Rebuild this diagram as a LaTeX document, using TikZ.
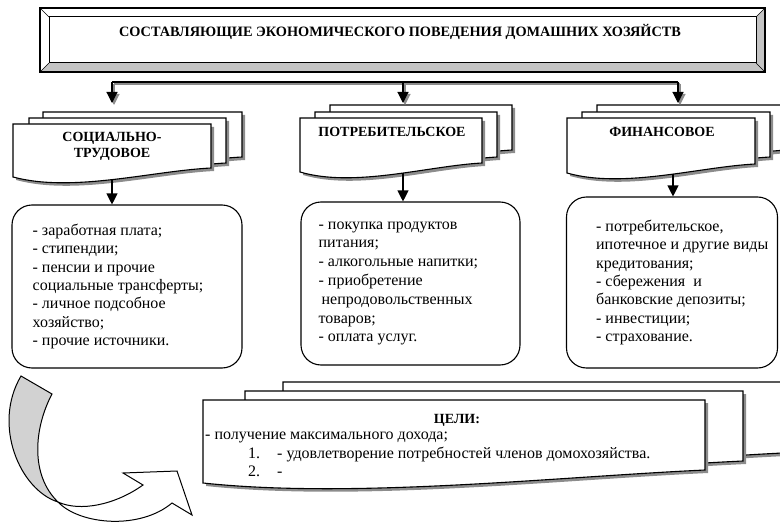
\documentclass[tikz,border=0pt]{standalone}
\usepackage{fontspec}
\setmainfont{Liberation Serif}
\usetikzlibrary{arrows.meta,positioning,calc}
\definecolor{hhshade}{HTML}{8C8C8C}
\definecolor{hhbevel}{HTML}{C4C4C4}
\definecolor{hhtwist}{HTML}{D2D2D2}

% sheet with a wavy foot: x, y (top left), width, height (left side), rise of the right end
\newcommand{\hhsheet}[5]{%
  \pgfmathsetmacro{\hhR}{#1+#3}%
  \pgfmathsetmacro{\hhB}{#2+#4}%
  \pgfmathsetmacro{\hhBr}{#2+#4-#5}%
  \pgfmathsetmacro{\hhCa}{#1+0.3*#3}%
  \pgfmathsetmacro{\hhCb}{#1+0.7*#3}%
  \pgfmathsetmacro{\hhYa}{#2+#4+16}%
  \pgfmathsetmacro{\hhYb}{#2+#4-6}%
  \begin{scope}[shift={(3,3)}]
    \fill[hhshade] (#1,#2) -- (\hhR,#2) -- (\hhR,\hhBr) .. controls (\hhCb,\hhYb) and (\hhCa,\hhYa) .. (#1,\hhB) -- cycle;
  \end{scope}
  \draw[sheet] (#1,#2) -- (\hhR,#2) -- (\hhR,\hhBr) .. controls (\hhCb,\hhYb) and (\hhCa,\hhYa) .. (#1,\hhB) -- cycle;
}

\begin{document}
\begin{tikzpicture}[x=1pt,y=-1pt,
  sheet/.style={draw=black,fill=white,line width=1.1pt},
  listbox/.style={draw,rounded corners=20pt,line width=1.1pt,inner sep=0pt},
  listtext/.style={align=left,inner sep=0pt,font=\fontsize{16}{18.3}\selectfont},
  goaltext/.style={align=left,inner sep=0pt,font=\fontsize{16}{18.5}\selectfont},
  cardlab/.style={align=center,inner sep=0pt,font=\fontsize{14}{16}\selectfont\bfseries},
  titletext/.style={inner sep=0pt,font=\fontsize{14.3}{16}\selectfont\bfseries},
  bus/.style={line width=1.1pt},
  arr/.style={-{Triangle[length=11pt,width=11pt]},line width=1.1pt},
  shadow/.style={hhshade,transform canvas={shift={(2,2)}}}]
\useasboundingbox (0,0) rectangle (780,527);

% title frame
\fill[hhbevel] (40,8) rectangle (765,72);
\fill[white] (40,8) -- (765,8) -- (756,17) -- (49,17) -- (49,63) -- (40,72) -- cycle;
\fill[white] (49,17) rectangle (756,63);
\draw[line width=1.2pt] (40,8) rectangle (765,72);
\draw[line width=1pt] (49,17) rectangle (756,63);
\draw[line width=0.6pt] (40,8) -- (49,17) (765,8) -- (756,17) (765,72) -- (756,63) (40,72) -- (49,63);
\node[titletext] (title) at (400,32) {СОСТАВЛЯЮЩИЕ ЭКОНОМИЧЕСКОГО ПОВЕДЕНИЯ ДОМАШНИХ ХОЗЯЙСТВ};

% category sheets
\hhsheet{43}{112}{199}{54}{9}
\hhsheet{29}{118}{197}{54}{9}
\hhsheet{13}{124}{198}{53}{9}
\hhsheet{330}{105}{182}{54}{9}
\hhsheet{315}{112}{182}{54}{9}
\hhsheet{300}{118}{182}{54}{9}
\hhsheet{597}{105}{190}{54}{9}
\hhsheet{582}{112}{188}{54}{9}
\hhsheet{567}{118}{188}{55}{9}
\node[cardlab] (soc) at (112,146) {СОЦИАЛЬНО-\\ТРУДОВОЕ};
\node[cardlab] (potr) at (392,132) {ПОТРЕБИТЕЛЬСКОЕ};
\node[cardlab] (fin) at (662,132) {ФИНАНСОВОЕ};

% bus from the title
\coordinate (busW) at (112,82);
\coordinate (busE) at (678,82);
\coordinate (busM) at (403,82);
\coordinate (socIn) at (112,103);
\coordinate (potrIn) at (403,103);
\coordinate (finIn) at (678,103);
\draw[bus,shadow] (busW) -- (busE);
\draw[arr,shadow] (busW) -- (socIn);
\draw[arr,shadow] (busM) -- (potrIn);
\draw[arr,shadow] (busE) -- (finIn);
\draw[bus] (busW) -- (busE);
\draw[arr] (busW) -- (socIn);
\draw[arr] (busM) -- (potrIn);
\draw[arr] (busE) -- (finIn);

% lists
\node[listbox,minimum width=230pt,minimum height=163pt] (socList) at (127,286.5) {};
\node[listtext,right=21pt of socList.west,anchor=west] (socText) {- заработная плата;\\- стипендии;\\- пенсии и прочие\\социальные трансферты;\\- личное подсобное\\хозяйство;\\- прочие источники.};
\node[listbox,minimum width=219pt,minimum height=163pt] (potrList) at (410.5,283.5) {};
\node[listtext,right=18pt of potrList.west,anchor=west,font=\fontsize{16}{18.8}\selectfont] (potrText) {- покупка продуктов\\питания;\\- алкогольные напитки;\\- приобретение\\\hspace*{3pt}непродовольственных\\товаров;\\- оплата услуг.};
\node[listbox,minimum width=211pt,minimum height=171pt] (finList) at (672,282.5) {};
\node[listtext,right=30pt of finList.west,anchor=west] (finText) {- потребительское,\\ипотечное и другие виды\\кредитования;\\- сбережения\ \ и\\банковские депозиты;\\- инвестиции;\\- страхование.};

\coordinate (socFoot) at (112,180);
\coordinate (potrFoot) at (403,173);
\coordinate (finFoot) at (673,174);
\draw[arr] (socFoot) -- (socFoot |- socList.north);
\draw[arr] (potrFoot) -- (potrFoot |- potrList.north);
\draw[arr] (finFoot) -- (finFoot |- finList.north);

% goals sheets
\hhsheet{283}{382}{520}{83}{13}
\hhsheet{245}{391}{498}{83}{13}
\hhsheet{203}{400}{502}{83}{13}
\node[inner sep=0pt,font=\fontsize{14}{16}\selectfont\bfseries] (goalsHead) at (457,420) {ЦЕЛИ:};
\node[goaltext,anchor=north west] (goalsText) at (205,432) {- получение максимального дохода;\\
\hspace*{43pt}\makebox[29pt][l]{1.}- удовлетворение потребностей членов домохозяйства.\\
\hspace*{43pt}\makebox[29pt][l]{2.}-};

% twisted arrow
\filldraw[fill=hhtwist,line width=1pt] (21,376) -- (52,394) .. controls (34,428) and (30,475) .. (58,502)
  .. controls (20,490) and (-8,425) .. (21,376) -- cycle;
\filldraw[fill=white,line width=1pt] (58,502) .. controls (80,525) and (140,530) .. (172,503) -- (192,515)
  -- (177,471) -- (123,473) -- (143,485) .. controls (115,505) and (80,512) .. (58,502) -- cycle;
\end{tikzpicture}
\end{document}
